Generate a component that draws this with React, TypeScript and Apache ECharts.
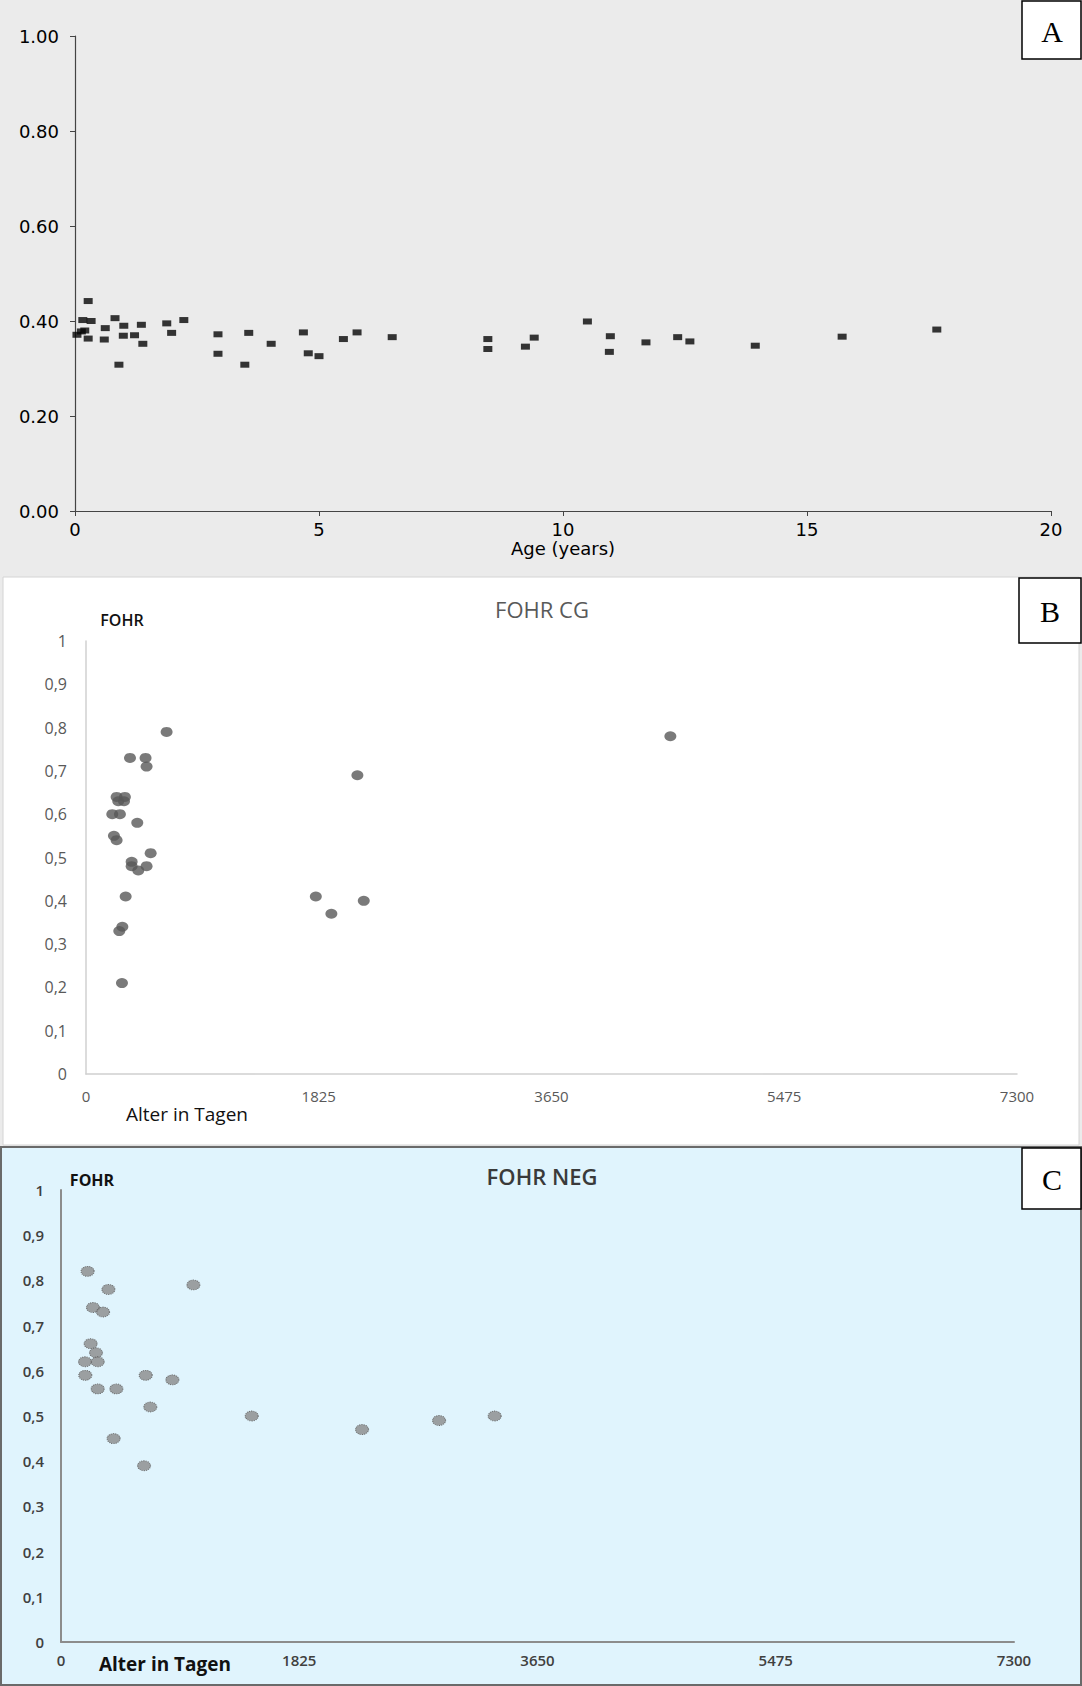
import React, { useEffect, useRef } from 'react';
import * as echarts from 'echarts';

// ---------- Panel A ----------
const agesA = [0.04, 0.13, 0.2, 0.16, 0.27, 0.27, 0.33, 0.62, 0.6, 0.82, 0.9, 1.0, 0.99, 1.22, 1.36, 1.39, 1.88, 1.98, 2.23, 2.93, 2.93, 3.48, 3.56, 4.02, 4.68, 4.78, 5.0, 5.5, 5.78, 6.5, 8.46, 8.46, 9.23, 9.41, 10.5, 10.97, 10.95, 11.7, 12.35, 12.6, 13.94, 15.72, 17.66];
const fohrA = [0.371, 0.378, 0.38, 0.402, 0.442, 0.363, 0.4, 0.385, 0.361, 0.406, 0.308, 0.39, 0.369, 0.37, 0.392, 0.352, 0.395, 0.375, 0.402, 0.372, 0.331, 0.308, 0.375, 0.352, 0.376, 0.332, 0.326, 0.362, 0.376, 0.366, 0.362, 0.341, 0.346, 0.365, 0.399, 0.368, 0.335, 0.355, 0.366, 0.357, 0.348, 0.367, 0.382];
const yTicksA = ['0.00', '0.20', '0.40', '0.60', '0.80', '1.00'];
const xTicksA = ['0', '5', '10', '15', '20'];

// ---------- Panel B (FOHR CG) ----------
const daysB = [632, 345, 467, 475, 240, 305, 253, 298, 206, 266, 402, 219, 240, 507, 358, 358, 475, 410, 311, 285, 261, 282, 1802, 1924, 2128, 2178, 4582];
const fohrB = [0.79, 0.73, 0.73, 0.71, 0.64, 0.64, 0.63, 0.63, 0.6, 0.6, 0.58, 0.55, 0.54, 0.51, 0.49, 0.48, 0.48, 0.47, 0.41, 0.34, 0.33, 0.21, 0.41, 0.37, 0.69, 0.4, 0.78];

// ---------- Panel C (FOHR NEG) ----------
const daysC = [204, 363, 1014, 245, 322, 227, 268, 184, 281, 186, 649, 853, 281, 424, 684, 1461, 403, 636, 2306, 2896, 3322];
const fohrC = [0.82, 0.78, 0.79, 0.74, 0.73, 0.66, 0.64, 0.62, 0.62, 0.59, 0.59, 0.58, 0.56, 0.56, 0.52, 0.5, 0.45, 0.39, 0.47, 0.49, 0.5];

const yTicksBC = ['0', '0,1', '0,2', '0,3', '0,4', '0,5', '0,6', '0,7', '0,8', '0,9', '1'];
const xTicksBC = ['0', '1825', '3650', '5475', '7300'];

const W = 1082;
const H = 1686;

function zip(xs: number[], ys: number[]) {
  return xs.map((x, i) => [x, ys[i]]);
}

export default function App() {
  const ref = useRef<HTMLDivElement>(null);
  useEffect(() => {
    document.body.style.margin = '0';
    const chart = echarts.init(ref.current!, null, { renderer: 'svg' });
    const sans = 'Open Sans';
    const option: any = {
      animation: false,
      backgroundColor: '#ebebeb',
      grid: [
        { left: 75, top: 36, width: 976, height: 475 },
        { left: 86, top: 641, width: 931, height: 433 },
        { left: 61, top: 1190, width: 953, height: 452 },
      ],
      xAxis: [
        {
          gridIndex: 0, type: 'value', min: 0, max: 20, interval: 5,
          axisLine: { show: true, lineStyle: { color: '#444', width: 1.2 } },
          axisTick: { show: true, length: 5, lineStyle: { color: '#444' } },
          splitLine: { show: false },
          axisLabel: {
            margin: 9, color: '#000', fontFamily: 'DejaVu Sans', fontSize: 18,
            formatter: (v: number) => xTicksA[Math.round(v / 5)],
          },
        },
        {
          gridIndex: 1, type: 'value', min: 0, max: 7300, interval: 1825,
          axisLine: { show: true, lineStyle: { color: '#d0d0d0', width: 1.5 } },
          axisTick: { show: false },
          splitLine: { show: false },
          axisLabel: {
            margin: 14, color: '#595959', fontFamily: sans, fontSize: 15,
            formatter: (v: number) => xTicksBC[Math.round(v / 1825)],
          },
        },
        {
          gridIndex: 2, type: 'value', min: 0, max: 7300, interval: 1825,
          axisLine: { show: true, lineStyle: { color: '#8c8c8c', width: 2 } },
          axisTick: { show: false },
          splitLine: { show: false },
          axisLabel: {
            margin: 10, color: '#404040', fontFamily: sans, fontSize: 15, fontWeight: 600,
            formatter: (v: number) => xTicksBC[Math.round(v / 1825)],
          },
        },
      ],
      yAxis: [
        {
          gridIndex: 0, type: 'value', min: 0, max: 1, interval: 0.2,
          axisLine: { show: true, lineStyle: { color: '#444', width: 1.2 } },
          axisTick: { show: true, length: 5, lineStyle: { color: '#444' } },
          splitLine: { show: false },
          axisLabel: {
            margin: 16, color: '#000', fontFamily: 'DejaVu Sans', fontSize: 18,
            formatter: (v: number) => yTicksA[Math.round(v / 0.2)],
          },
        },
        {
          gridIndex: 1, type: 'value', min: 0, max: 1, interval: 0.1,
          axisLine: { show: true, lineStyle: { color: '#d0d0d0', width: 1.5 } },
          axisTick: { show: false },
          splitLine: { show: false },
          axisLabel: {
            margin: 19, color: '#595959', fontFamily: sans, fontSize: 16,
            formatter: (v: number) => yTicksBC[Math.round(v / 0.1)],
          },
        },
        {
          gridIndex: 2, type: 'value', min: 0, max: 1, interval: 0.1,
          axisLine: { show: true, lineStyle: { color: '#8c8c8c', width: 2 } },
          axisTick: { show: false },
          splitLine: { show: false },
          axisLabel: {
            margin: 17, color: '#404040', fontFamily: sans, fontSize: 15, fontWeight: 600,
            formatter: (v: number) => yTicksBC[Math.round(v / 0.1)],
          },
        },
      ],
      series: [
        {
          type: 'scatter', xAxisIndex: 0, yAxisIndex: 0,
          symbol: 'rect', symbolSize: [9, 6],
          itemStyle: { color: '#050505' },
          data: zip(agesA, fohrA),
        },
        {
          type: 'scatter', xAxisIndex: 1, yAxisIndex: 1,
          symbol: 'circle', symbolSize: [12, 10],
          itemStyle: { color: '#595959' },
          data: zip(daysB, fohrB),
        },
        {
          type: 'scatter', xAxisIndex: 2, yAxisIndex: 2,
          symbol: 'circle', symbolSize: [13, 10],
          itemStyle: { color: '#8a8a8a', borderColor: '#555', borderWidth: 1, borderType: 'dotted' },
          data: zip(daysC, fohrC),
        },
      ],
      graphic: [
        // panel backgrounds
        { type: 'rect', z: -10, shape: { x: 3, y: 577, width: 1076, height: 568 }, style: { fill: '#ffffff', stroke: '#d4d4d4', lineWidth: 1 } },
        { type: 'rect', z: -10, shape: { x: 1, y: 1147, width: 1080, height: 538 }, style: { fill: '#e0f4fd', stroke: '#6a6a6a', lineWidth: 2 } },
        // panel letter boxes
        { type: 'rect', z: 10, shape: { x: 1022, y: 1, width: 59, height: 58 }, style: { fill: '#fff', stroke: '#000', lineWidth: 1.5 } },
        { type: 'text', z: 11, x: 1052, y: 31, style: { text: 'A', font: '30px "Liberation Serif"', fill: '#000', align: 'center', verticalAlign: 'middle' } },
        { type: 'rect', z: 10, shape: { x: 1019, y: 578, width: 62, height: 65 }, style: { fill: '#fff', stroke: '#000', lineWidth: 1.5 } },
        { type: 'text', z: 11, x: 1050, y: 611, style: { text: 'B', font: '30px "Liberation Serif"', fill: '#000', align: 'center', verticalAlign: 'middle' } },
        { type: 'rect', z: 10, shape: { x: 1022, y: 1148, width: 59, height: 61 }, style: { fill: '#fff', stroke: '#000', lineWidth: 1.5 } },
        { type: 'text', z: 11, x: 1052, y: 1179, style: { text: 'C', font: '30px "Liberation Serif"', fill: '#000', align: 'center', verticalAlign: 'middle' } },
        // panel A axis title
        { type: 'text', z: 10, x: 563, y: 548, style: { text: 'Age (years)', font: '18px "DejaVu Sans"', fill: '#000', align: 'center', verticalAlign: 'middle' } },
        // panel B texts
        { type: 'text', z: 10, x: 542, y: 609, style: { text: 'FOHR CG', font: '22px "Open Sans"', fill: '#595959', align: 'center', verticalAlign: 'middle' } },
        { type: 'text', z: 10, x: 122, y: 620, style: { text: 'FOHR', font: '600 16px "Open Sans"', fill: '#111', align: 'center', verticalAlign: 'middle' } },
        { type: 'text', z: 10, x: 187, y: 1114, style: { text: 'Alter in Tagen', font: '19px "Open Sans"', fill: '#111', align: 'center', verticalAlign: 'middle' } },
        // panel C texts
        { type: 'text', z: 10, x: 542, y: 1176, style: { text: 'FOHR NEG', font: '600 22px "Open Sans"', fill: '#3a3a3a', align: 'center', verticalAlign: 'middle' } },
        { type: 'text', z: 10, x: 92, y: 1180, style: { text: 'FOHR', font: 'bold 16px "Open Sans"', fill: '#111', align: 'center', verticalAlign: 'middle' } },
        { type: 'text', z: 10, x: 165, y: 1664, style: { text: 'Alter in Tagen', font: 'bold 19px "Open Sans"', fill: '#111', align: 'center', verticalAlign: 'middle' } },
      ],
    };
    chart.setOption(option);
    return () => chart.dispose();
  }, []);
  return <div ref={ref} style={{ width: W, height: H }} />;
}
